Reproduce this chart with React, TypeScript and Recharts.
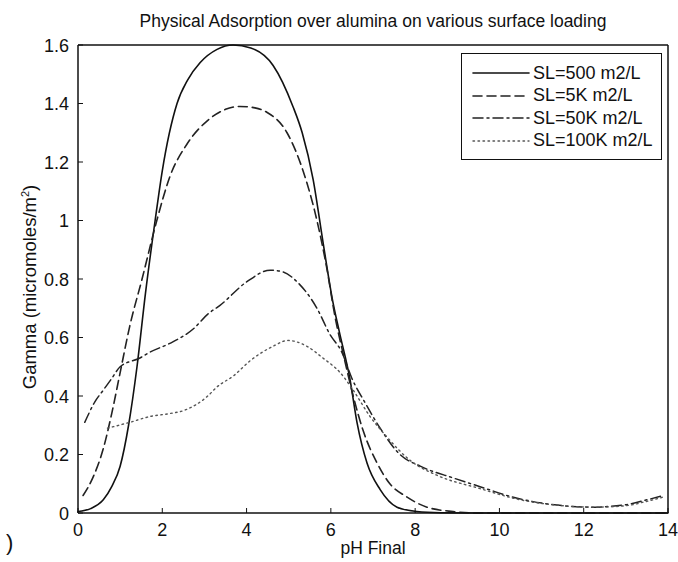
import { LineChart, Line, XAxis, YAxis } from "recharts";

// pH / Gamma readings for each surface loading
const sl500Ph = [0, 0.3, 0.6, 0.8, 1.0, 1.2, 1.4, 1.6, 1.83, 2.0, 2.35, 2.6, 2.9, 3.3, 3.68, 4.1, 4.63, 5.1, 5.32, 5.58, 5.82, 6.05, 6.2, 6.45, 6.62, 6.86, 7.17, 7.57, 8.04, 8.6, 9.5, 11, 12.5, 14];
const sl500Gamma = [0.005, 0.015, 0.045, 0.09, 0.16, 0.3, 0.5, 0.75, 1.0, 1.17, 1.4, 1.48, 1.54, 1.585, 1.6, 1.59, 1.53, 1.39, 1.3, 1.14, 0.92, 0.72, 0.62, 0.46, 0.31, 0.17, 0.08, 0.02, 0.005, 0.001, 0, 0, 0, 0];

const sl5kPh = [0.12, 0.35, 0.6, 0.8, 1.0, 1.23, 1.52, 1.87, 2.18, 2.58, 3.06, 3.5, 3.84, 4.2, 4.48, 4.96, 5.34, 5.67, 5.9, 6.1, 6.3, 6.53, 6.77, 7.1, 7.4, 7.8, 8.28, 8.9, 9.5, 11, 12.5, 14];
const sl5kGamma = [0.06, 0.12, 0.22, 0.34, 0.48, 0.64, 0.8, 1.0, 1.15, 1.26, 1.34, 1.38, 1.39, 1.385, 1.37, 1.3, 1.17, 1.0, 0.84, 0.67, 0.54, 0.4, 0.28, 0.17, 0.1, 0.055, 0.02, 0.005, 0, 0, 0, 0];

const sl50kPh = [0.16, 0.4, 0.6, 0.8, 1.0, 1.47, 1.71, 2.18, 2.74, 3.08, 3.37, 4.0, 4.56, 4.85, 5.2, 5.67, 5.98, 6.26, 6.5, 6.8, 7.17, 7.64, 8.12, 8.9, 9.54, 10.3, 11.37, 12.15, 12.94, 13.5, 13.9];
const sl50kGamma = [0.31, 0.38, 0.42, 0.46, 0.5, 0.53, 0.55, 0.58, 0.63, 0.68, 0.71, 0.79, 0.83, 0.825, 0.79, 0.7, 0.61, 0.55, 0.46, 0.38, 0.29, 0.2, 0.16, 0.12, 0.09, 0.055, 0.027, 0.02, 0.027, 0.045, 0.06];

const sl100kPh = [0.7, 1.23, 1.71, 2.18, 2.5, 3.08, 3.29, 3.7, 4.08, 4.63, 4.98, 5.43, 5.81, 6.22, 6.53, 6.93, 7.33, 7.88, 8.5, 9.5, 10.5, 11.5, 12.3, 13, 13.5, 13.9];
const sl100kGamma = [0.29, 0.31, 0.33, 0.34, 0.35, 0.4, 0.43, 0.47, 0.52, 0.57, 0.59, 0.57, 0.53, 0.48, 0.42, 0.33, 0.26, 0.18, 0.13, 0.085, 0.045, 0.025, 0.02, 0.025, 0.04, 0.055];

const xTicks = [0, 2, 4, 6, 8, 10, 12, 14];
const yTicks = [0, 0.2, 0.4, 0.6, 0.8, 1, 1.2, 1.4, 1.6];

const zip = (ph: number[], g: number[]) => ph.map((p, i) => ({ ph: p, gamma: g[i] }));

const series = [
  { name: "SL=500 m2/L", data: zip(sl500Ph, sl500Gamma), dash: undefined, width: 1.6, color: "#111" },
  { name: "SL=5K m2/L", data: zip(sl5kPh, sl5kGamma), dash: "9 5", width: 1.6, color: "#222" },
  { name: "SL=50K m2/L", data: zip(sl50kPh, sl50kGamma), dash: "10 4 2 4", width: 1.5, color: "#222" },
  { name: "SL=100K m2/L", data: zip(sl100kPh, sl100kGamma), dash: "1.5 3.5", width: 1.4, color: "#555" },
];

const FONT = "'Liberation Sans', Arial, sans-serif";
const TICK_LEN = 5;

// axes are given 1px so recharts still draws them; margins make up for it
const BottomTick = (props: any) => {
  const { x, y, payload } = props;
  return (
    <g>
      <line x1={x} x2={x} y1={y} y2={y - TICK_LEN} stroke="#111" />
      <text x={x} y={y + 23} textAnchor="middle" fontSize={18} fontFamily={FONT} fill="#111">
        {payload.value}
      </text>
    </g>
  );
};

const LeftTick = (props: any) => {
  const { x, y, payload } = props;
  return (
    <g>
      <line x1={x} x2={x + TICK_LEN} y1={y} y2={y} stroke="#111" />
      <text x={x - 9} y={y + 6.5} textAnchor="end" fontSize={18} fontFamily={FONT} fill="#111">
        {payload.value}
      </text>
    </g>
  );
};

const TopTick = (props: any) => {
  const { x, y } = props;
  return <line x1={x} x2={x} y1={y} y2={y + TICK_LEN} stroke="#111" />;
};

const RightTick = (props: any) => {
  const { x, y } = props;
  return <line x1={x} x2={x - TICK_LEN} y1={y} y2={y} stroke="#111" />;
};

export default function App() {
  return (
    <div style={{ position: "absolute", left: 0, top: 0, width: 678, height: 562, background: "#fff", fontFamily: FONT }}>
      <LineChart width={678} height={562} margin={{ top: 44, right: 9, bottom: 48, left: 77 }}>
        <XAxis
          dataKey="ph"
          type="number"
          domain={[0, 14]}
          ticks={xTicks}
          interval={0}
          height={1}
          tickSize={0}
          tickMargin={0}
          tick={BottomTick}
          axisLine={{ stroke: "#111", strokeWidth: 1.5 }}
        />
        <XAxis
          xAxisId="top"
          orientation="top"
          dataKey="ph"
          type="number"
          domain={[0, 14]}
          ticks={xTicks}
          interval={0}
          height={1}
          tickSize={0}
          tickMargin={0}
          tick={TopTick}
          axisLine={{ stroke: "#111", strokeWidth: 1.5 }}
        />
        <YAxis
          type="number"
          domain={[0, 1.6]}
          ticks={yTicks}
          interval={0}
          width={1}
          tickSize={0}
          tickMargin={0}
          tick={LeftTick}
          axisLine={{ stroke: "#111", strokeWidth: 1.5 }}
        />
        <YAxis
          yAxisId="right"
          orientation="right"
          type="number"
          domain={[0, 1.6]}
          ticks={yTicks}
          interval={0}
          width={1}
          tickSize={0}
          tickMargin={0}
          tick={RightTick}
          axisLine={{ stroke: "#111", strokeWidth: 1.5 }}
        />
        {series.map((s) => (
          <Line
            key={s.name}
            data={s.data}
            dataKey="gamma"
            name={s.name}
            type="monotone"
            stroke={s.color}
            strokeWidth={s.width}
            strokeDasharray={s.dash}
            strokeLinecap="round"
            dot={false}
            activeDot={false}
            isAnimationActive={false}
          />
        ))}
      </LineChart>

      {/* title */}
      <div style={{ position: "absolute", left: 0, width: 746, top: 11, textAlign: "center", fontSize: 17.5, color: "#111", lineHeight: "20px" }}>
        Physical Adsorption over alumina on various surface loading
      </div>

      {/* axis labels */}
      <div style={{ position: "absolute", left: 0, width: 746, top: 538, textAlign: "center", fontSize: 17.5, color: "#111", lineHeight: "20px" }}>
        pH Final
      </div>
      <div
        style={{
          position: "absolute",
          left: 30,
          top: 287,
          transform: "translate(-50%, -50%) rotate(-90deg)",
          whiteSpace: "nowrap",
          fontSize: 18.5,
          color: "#111",
        }}
      >
        Gamma (micromoles/m<sup style={{ fontSize: 11 }}>2</sup>)
      </div>
      <div style={{ position: "absolute", left: 6, top: 530, fontSize: 22, color: "#111" }}>)</div>

      {/* legend */}
      <div
        style={{
          position: "absolute",
          left: 461,
          top: 53,
          width: 201,
          height: 107,
          border: "1.5px solid #111",
          background: "#fff",
          boxSizing: "border-box",
          padding: "8px 0 0 10px",
        }}
      >
        {series.map((s) => (
          <div key={s.name} style={{ display: "flex", alignItems: "center", height: 22.5, fontSize: 18, color: "#111", whiteSpace: "nowrap" }}>
            <svg width={58} height={10} style={{ marginRight: 3 }}>
              <line x1={1} x2={57} y1={5} y2={5} stroke={s.color} strokeWidth={s.width} strokeDasharray={s.dash} strokeLinecap="round" />
            </svg>
            {s.name}
          </div>
        ))}
      </div>
    </div>
  );
}
